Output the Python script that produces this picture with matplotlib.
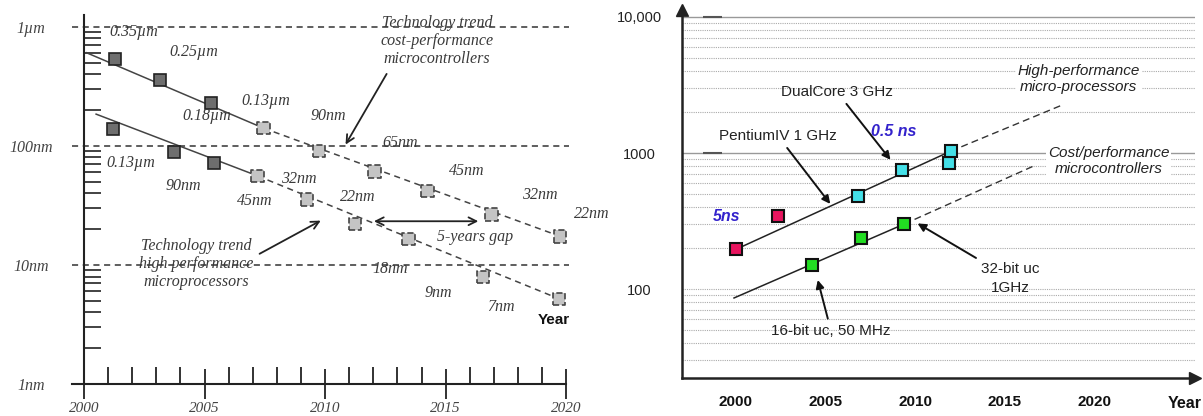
import matplotlib
matplotlib.use("Agg")
import matplotlib.pyplot as plt
from matplotlib.ticker import LogLocator, NullFormatter, FixedLocator

# ---- left panel: feature size (nm) vs year ----
cp_years = [2001.3, 2003.15, 2005.25, 2007.45, 2009.75, 2012.05, 2014.25, 2016.9, 2019.75]
cp_nm = [540, 360, 228, 141, 91, 61, 42, 26.6, 17.4]
hp_years = [2001.2, 2003.75, 2005.4, 2007.2, 2009.25, 2011.25, 2013.45, 2016.55, 2019.7]
hp_nm = [139, 89, 72, 56, 35.5, 22, 16.5, 7.9, 5.2]
n_past = 3  # first points are solid (already reached)

cp_trend_years = [2000.1, 2007.45, 2019.75]
cp_trend_nm = [607, 141, 17.4]
hp_trend_years = [2000.5, 2007.2, 2019.7]
hp_trend_nm = [185, 56, 5.2]

node_labels = ["0.35µm", "0.25µm", "0.18µm", "0.13µm", "90nm", "65nm", "45nm", "32nm", "22nm",
               "0.13µm", "90nm", "45nm", "32nm", "22nm", "18nm", "9nm", "7nm"]
node_x = [2002.05, 2004.56, 2005.08, 2007.55, 2010.12, 2013.13, 2015.89, 2018.92, 2021.04,
          2001.93, 2004.13, 2007.07, 2008.9, 2011.37, 2012.7, 2014.71, 2017.28]
node_y = [908, 619, 178, 237, 178, 106, 61.9, 39, 26.6,
          72.2, 46.4, 34.8, 53.1, 36.9, 9.26, 5.84, 4.47]

left_yticks = [1, 10, 100, 1000]
left_ylabels = ["1nm", "10nm", "100nm", "1µm"]
left_xticks = [2000, 2005, 2010, 2015, 2020]

# ---- right panel: clock / performance vs year ----
red_years = [2000.0, 2002.35]
red_vals = [197, 344]
cyan_years = [2006.8, 2009.25, 2011.9, 2012.0]
cyan_vals = [483, 750, 844, 1034]
green_years = [2004.25, 2007.0, 2009.4]
green_vals = [150, 237, 301]

mp_trend_years = [2000.3, 2012.0, 2018.2]
mp_trend_vals = [204, 1034, 2254]
uc_trend_years = [1999.9, 2009.4, 2016.6]
uc_trend_vals = [86, 301, 802]

right_yticks = [100, 1000, 10000]
right_ylabels = ["100", "1000", "10,000"]
right_xticks = [2000, 2005, 2010, 2015, 2020]

W, H = 1203, 416
fig = plt.figure(figsize=(W / 100, H / 100), dpi=100)

serif = "Liberation Serif"
sans = "Liberation Sans"
tcol = "#3a3a3a"

# ================= LEFT =================
ax = fig.add_axes([72 / W, (H - 384) / H, 499 / W, 369 / H])
ax.set_yscale("log")
ax.set_xlim(1999.5, 2020.2)
ax.set_ylim(1.06, 1259)
for s in ["top", "right"]:
    ax.spines[s].set_visible(False)
ax.spines["left"].set_position(("data", 2000))
ax.spines["left"].set_color("#222")
ax.spines["left"].set_linewidth(1.5)
ax.spines["bottom"].set_bounds(1999.5, 2020)
ax.spines["bottom"].set_color("#222")
ax.spines["bottom"].set_linewidth(1.5)

ax.set_xticks(left_xticks)
ax.set_xticklabels([str(t) for t in left_xticks], fontfamily=serif, style="italic",
                   fontsize=11, color="#444")
ax.xaxis.set_minor_locator(FixedLocator(range(2001, 2020)))
ax.tick_params(axis="x", which="major", direction="inout", length=22, width=1.3,
               color="#222", pad=2)
ax.tick_params(axis="x", which="minor", direction="in", length=12, width=1.3, color="#222")

ax.set_yticks(left_yticks)
ax.set_yticklabels(left_ylabels, fontfamily=serif, style="italic", fontsize=11.5, color="#444")
for lbl in ax.get_yticklabels():
    lbl.set_horizontalalignment("center")
ax.yaxis.set_minor_locator(LogLocator(base=10, subs=range(2, 10)))
ax.yaxis.set_minor_formatter(NullFormatter())
ax.tick_params(axis="y", which="major", length=0, pad=38)
ax.tick_params(axis="y", which="minor", direction="in", length=12, width=1.2, color="#222")

ax.hlines([10, 100, 1000], 1999.5, 2020.1, colors="#333", linestyles=(0, (4, 3)), lw=1.1)

ax.plot(cp_trend_years[:2], cp_trend_nm[:2], color="#444", lw=1.1)
ax.plot(cp_trend_years[1:], cp_trend_nm[1:], color="#444", lw=1.1, ls=(0, (4, 3)))
ax.plot(hp_trend_years[:2], hp_trend_nm[:2], color="#444", lw=1.1)
ax.plot(hp_trend_years[1:], hp_trend_nm[1:], color="#444", lw=1.1, ls=(0, (4, 3)))

for xs, ys in [(cp_years, cp_nm), (hp_years, hp_nm)]:
    ax.plot(xs[:n_past], ys[:n_past], "s", ms=9, mfc="#6e6e6e", mec="#222", mew=1.2,
            ls="none", zorder=4)
    ax.scatter(xs[n_past:], ys[n_past:], marker="s", s=9 ** 2, facecolors="#c4c4c4",
               edgecolors="#444", linewidths=1.2, linestyles="--", zorder=4)

for txt, x, y in zip(node_labels, node_x, node_y):
    ax.text(x, y, txt, fontfamily=serif, style="italic", fontsize=11.5, color=tcol,
            ha="center", va="center", zorder=5)

ax.text(2014.65, 757, "Technology trend\ncost-performance\nmicrocontrollers",
        fontfamily=serif, style="italic", fontsize=11.5, color=tcol, ha="center", va="center",
        linespacing=1.15)
ax.annotate("", xy=(2010.79, 98), xytext=(2012.61, 422),
            arrowprops=dict(arrowstyle="->", color="#222", lw=1.3, mutation_scale=14))
ax.text(2004.65, 10.2, "Technology trend\nhigh performance\nmicroprocessors",
        fontfamily=serif, style="italic", fontsize=11.5, color=tcol, ha="center", va="center",
        linespacing=1.15)
ax.annotate("", xy=(2009.92, 24.2), xytext=(2007.18, 12.1),
            arrowprops=dict(arrowstyle="->", color="#222", lw=1.3, mutation_scale=14))
ax.annotate("", xy=(2011.91, 23.3), xytext=(2016.47, 23.3),
            arrowprops=dict(arrowstyle="<->", color="#222", lw=1.3, mutation_scale=14))
ax.text(2016.24, 17.1, "5-years gap", fontfamily=serif, style="italic", fontsize=11.5,
        color=tcol, ha="center", va="center")
ax.text(2019.48, 3.48, "Year", fontfamily=sans, fontweight="bold", fontsize=11,
        color="#111", ha="center", va="center")

# ================= RIGHT =================
bx = fig.add_axes([682 / W, (H - 378) / H, 513 / W, 368 / H])
bx.set_yscale("log")
bx.set_xlim(1997, 2025.6)
bx.set_ylim(22.2, 11250)
for s in ["top", "right"]:
    bx.spines[s].set_visible(False)
for s in ["left", "bottom"]:
    bx.spines[s].set_color("#222")
    bx.spines[s].set_linewidth(1.8)
bx.plot([0], [1], marker="^", ms=8, color="#222", transform=bx.transAxes, clip_on=False)
bx.plot([1], [0], marker=">", ms=8, color="#222", transform=bx.transAxes, clip_on=False)

bx.set_xticks(right_xticks)
bx.set_xticklabels([str(t) for t in right_xticks], fontfamily=sans, fontweight="bold",
                   fontsize=11, color="#111")
bx.tick_params(axis="x", length=0, pad=12)
bx.text(2025, -0.068, "Year", transform=bx.get_xaxis_transform(), fontfamily=sans,
        fontweight="bold", fontsize=11.5, color="#111", ha="center", va="center")

bx.set_yticks(right_yticks)
bx.set_yticklabels(right_ylabels, fontfamily=sans, fontsize=10.5, color="#222")
for lbl in bx.get_yticklabels():
    lbl.set_horizontalalignment("center")
bx.yaxis.set_minor_locator(LogLocator(base=10, subs=range(2, 10)))
bx.yaxis.set_minor_formatter(NullFormatter())
bx.tick_params(axis="y", which="both", length=0, pad=31)
bx.grid(axis="y", which="minor", color="#aaa", lw=0.8, ls=(0, (1, 1)))
bx.axhline(100, color="#aaa", lw=0.8, ls=(0, (1, 1)))
bx.axhline(1000, color="#999", lw=1.0)
bx.axhline(10000, color="#999", lw=1.0)
bx.hlines([1000, 10000], 1998.16, 1999.22, colors="#555", lw=1.5)

bx.plot(mp_trend_years[:2], mp_trend_vals[:2], color="#222", lw=1.1, zorder=3)
bx.plot(mp_trend_years[1:], mp_trend_vals[1:], color="#333", lw=1.0, ls=(0, (5, 3)), zorder=3)
bx.plot(uc_trend_years[:2], uc_trend_vals[:2], color="#222", lw=1.1, zorder=3)
bx.plot(uc_trend_years[1:], uc_trend_vals[1:], color="#333", lw=1.0, ls=(0, (5, 3)), zorder=3)

sq = dict(marker="s", ms=9, mec="#111", mew=1.5, ls="none", zorder=4)
bx.plot(red_years, red_vals, mfc="#e8155f", **sq)
bx.plot(cyan_years, cyan_vals, mfc="#44e0e8", **sq)
bx.plot(green_years, green_vals, mfc="#22dd22", **sq)

rt = dict(fontfamily=sans, fontsize=11, color="#222", ha="center", va="center")
arr = dict(arrowstyle="-|>", color="#111", lw=1.4, mutation_scale=12)
bx.annotate("DualCore 3 GHz", xy=(2008.72, 859), xytext=(2005.64, 2812),
            arrowprops=arr, **rt)
bx.annotate("PentiumIV 1 GHz", xy=(2005.36, 407), xytext=(2002.35, 1334),
            arrowprops=arr, **rt)
bx.annotate("16-bit uc, 50 MHz", xy=(2004.53, 122), xytext=(2005.31, 49.1),
            arrowprops=arr, **rt)
bx.annotate("32-bit uc\n1GHz", xy=(2010.0, 311), xytext=(2015.31, 120),
            arrowprops=arr, linespacing=1.5, **rt)
bx.text(2007.54, 1451, "0.5 ns", fontfamily=sans, fontsize=11.5, fontweight="bold",
        style="italic", color="#3322cc", ha="left", va="center")
bx.text(1998.72, 344, "5ns", fontfamily=sans, fontsize=11.5, fontweight="bold",
        style="italic", color="#3322cc", ha="left", va="center")

box = dict(fc="white", ec="none", pad=1.3)
bx.text(2019.11, 3500, "High-performance\nmicro-processors", fontfamily=sans, style="italic",
        fontsize=11, color="#222", ha="center", va="center", bbox=box, zorder=5)
bx.text(2020.78, 873, "Cost/performance\nmicrocontrollers", fontfamily=sans, style="italic",
        fontsize=11, color="#222", ha="center", va="center", bbox=box, zorder=5)

fig.savefig("out.png", dpi=100)
